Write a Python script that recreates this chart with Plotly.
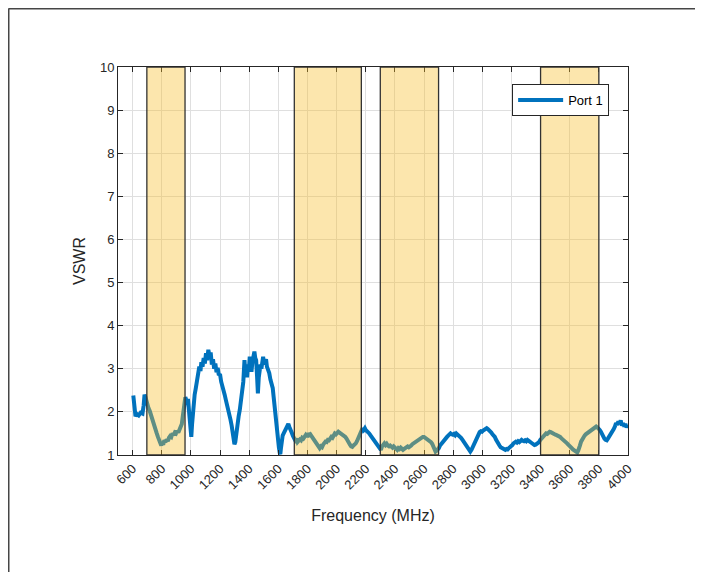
import plotly.graph_objects as go

freq_mhz = [605, 612, 620, 630, 642, 655, 668, 676, 682, 688, 694, 702, 710, 718, 726, 734, 742, 750, 758, 766,
            774, 782, 790, 797, 804, 810, 818, 826, 834, 842, 850, 858, 866, 874, 882, 890, 898, 906, 914, 922,
            930, 938, 944, 950, 956, 962, 968, 974, 980, 986, 992, 998, 1003, 1008, 1014, 1020, 1026, 1034, 1042, 1050,
            1058, 1066, 1072, 1080, 1088, 1096, 1104, 1112, 1120, 1128, 1136, 1144, 1152, 1160, 1168, 1176, 1184, 1192, 1200, 1208,
            1216, 1224, 1232, 1240, 1248, 1256, 1264, 1272, 1280, 1288, 1294, 1299, 1305, 1312, 1320, 1328, 1336, 1344, 1352, 1360,
            1368, 1374, 1380, 1386, 1392, 1398, 1404, 1410, 1416, 1422, 1430, 1436, 1442, 1448, 1454, 1460, 1466, 1472, 1478, 1484,
            1490, 1496, 1502, 1508, 1516, 1522, 1530, 1538, 1546, 1554, 1562, 1568, 1574, 1580, 1586, 1592, 1598, 1604, 1610, 1614,
            1618, 1624, 1630, 1637, 1645, 1653, 1661, 1669, 1676, 1684, 1692, 1700, 1708, 1716, 1724, 1732, 1740, 1748, 1756, 1764,
            1772, 1780, 1788, 1796, 1804, 1812, 1820, 1828, 1836, 1844, 1852, 1860, 1868, 1876, 1884, 1892, 1900, 1908, 1916, 1924,
            1932, 1940, 1948, 1956, 1964, 1972, 1980, 1988, 1996, 2004, 2012, 2020, 2028, 2036, 2044, 2052, 2060, 2068, 2076, 2084,
            2092, 2100, 2108, 2116, 2124, 2132, 2140, 2148, 2156, 2164, 2171, 2178, 2186, 2194, 2200, 2208, 2216, 2224, 2232, 2240,
            2248, 2256, 2264, 2272, 2280, 2288, 2296, 2304, 2312, 2320, 2328, 2336, 2344, 2352, 2360, 2368, 2376, 2384, 2392, 2400,
            2408, 2416, 2424, 2432, 2440, 2448, 2456, 2464, 2472, 2480, 2488, 2496, 2504, 2512, 2520, 2528, 2536, 2544, 2552, 2560,
            2568, 2576, 2584, 2592, 2600, 2608, 2616, 2624, 2632, 2640, 2648, 2656, 2664, 2672, 2679, 2686, 2694, 2702, 2710, 2718,
            2726, 2734, 2742, 2750, 2758, 2766, 2774, 2782, 2790, 2798, 2806, 2814, 2822, 2830, 2838, 2846, 2854, 2862, 2870, 2878,
            2886, 2894, 2902, 2910, 2918, 2926, 2934, 2942, 2950, 2958, 2966, 2974, 2982, 2990, 2998, 3006, 3014, 3022, 3030, 3038,
            3046, 3054, 3062, 3070, 3078, 3086, 3094, 3102, 3110, 3118, 3126, 3134, 3142, 3150, 3158, 3166, 3174, 3182, 3190, 3198,
            3206, 3214, 3222, 3230, 3238, 3246, 3254, 3262, 3270, 3278, 3286, 3294, 3302, 3310, 3318, 3326, 3334, 3342, 3350, 3358,
            3366, 3374, 3382, 3390, 3398, 3406, 3414, 3422, 3430, 3438, 3446, 3454, 3462, 3470, 3478, 3486, 3494, 3502, 3510, 3518,
            3526, 3534, 3542, 3550, 3558, 3566, 3574, 3582, 3590, 3598, 3606, 3614, 3622, 3630, 3638, 3646, 3652, 3658, 3664, 3670,
            3678, 3686, 3694, 3702, 3710, 3718, 3726, 3734, 3742, 3750, 3758, 3766, 3774, 3782, 3790, 3798, 3806, 3814, 3822, 3830,
            3838, 3846, 3854, 3862, 3870, 3878, 3886, 3894, 3902, 3910, 3918, 3926, 3934, 3942, 3950, 3958, 3966, 3974, 3982, 3990,
            3998]

vswr_port1 = [2.38, 2.05, 1.90, 1.95, 1.92, 1.98, 1.96, 2.15, 2.40, 2.35, 2.25, 2.15, 2.08, 2.02, 1.92, 1.82, 1.75, 1.68, 1.58, 1.50,
              1.42, 1.35, 1.26, 1.22, 1.30, 1.24, 1.34, 1.30, 1.36, 1.32, 1.40, 1.44, 1.42, 1.50, 1.46, 1.52, 1.50, 1.56, 1.52, 1.60,
              1.64, 1.72, 1.88, 2.05, 2.25, 2.34, 2.28, 2.20, 2.30, 2.05, 1.80, 1.55, 1.42, 1.70, 2.00, 2.25, 2.40, 2.55, 2.72, 2.85,
              3.05, 2.95, 3.15, 3.05, 3.25, 3.12, 3.36, 3.20, 3.44, 3.30, 3.38, 3.10, 3.22, 3.00, 3.12, 2.92, 3.02, 2.85, 2.88, 2.70,
              2.62, 2.48, 2.40, 2.28, 2.18, 2.05, 1.95, 1.82, 1.68, 1.52, 1.32, 1.25, 1.30, 1.55, 1.74, 1.90, 2.05, 2.28, 2.50, 2.70,
              3.20, 2.90, 3.05, 2.80, 3.10, 2.95, 3.28, 3.05, 2.93, 3.15, 3.30, 3.40, 3.25, 3.20, 2.85, 2.43, 2.80, 3.00, 3.10, 3.00,
              3.22, 3.28, 3.10, 3.15, 3.22, 3.05, 2.98, 2.90, 2.75, 2.65, 2.55, 2.35, 2.12, 1.92, 1.76, 1.58, 1.40, 1.18, 1.05, 1.02,
              1.15, 1.35, 1.45, 1.50, 1.55, 1.62, 1.66, 1.72, 1.65, 1.60, 1.52, 1.45, 1.39, 1.34, 1.38, 1.30, 1.33, 1.36, 1.34, 1.40,
              1.38, 1.44, 1.46, 1.42, 1.50, 1.46, 1.48, 1.44, 1.40, 1.38, 1.32, 1.26, 1.22, 1.18, 1.16, 1.20, 1.18, 1.24, 1.28, 1.31,
              1.30, 1.35, 1.34, 1.38, 1.42, 1.40, 1.46, 1.50, 1.48, 1.52, 1.54, 1.52, 1.50, 1.50, 1.46, 1.44, 1.42, 1.38, 1.32, 1.28,
              1.24, 1.20, 1.19, 1.22, 1.24, 1.27, 1.32, 1.38, 1.44, 1.52, 1.58, 1.62, 1.58, 1.62, 1.58, 1.56, 1.52, 1.50, 1.46, 1.42,
              1.39, 1.34, 1.30, 1.27, 1.22, 1.17, 1.14, 1.12, 1.20, 1.26, 1.27, 1.23, 1.26, 1.22, 1.20, 1.22, 1.18, 1.17, 1.20, 1.16,
              1.14, 1.12, 1.16, 1.14, 1.17, 1.14, 1.12, 1.14, 1.16, 1.18, 1.20, 1.18, 1.22, 1.22, 1.25, 1.27, 1.28, 1.30, 1.31, 1.34,
              1.36, 1.39, 1.40, 1.42, 1.42, 1.40, 1.39, 1.37, 1.35, 1.32, 1.30, 1.26, 1.20, 1.14, 1.08, 1.10, 1.12, 1.16, 1.22, 1.26,
              1.30, 1.34, 1.37, 1.40, 1.42, 1.45, 1.48, 1.50, 1.48, 1.47, 1.49, 1.46, 1.50, 1.48, 1.45, 1.44, 1.40, 1.36, 1.32, 1.28,
              1.24, 1.20, 1.16, 1.12, 1.08, 1.12, 1.18, 1.23, 1.30, 1.38, 1.43, 1.48, 1.53, 1.55, 1.54, 1.57, 1.58, 1.60, 1.62, 1.60,
              1.58, 1.56, 1.52, 1.48, 1.46, 1.42, 1.36, 1.30, 1.27, 1.22, 1.18, 1.16, 1.14, 1.12, 1.12, 1.14, 1.13, 1.16, 1.18, 1.22,
              1.23, 1.27, 1.30, 1.31, 1.29, 1.32, 1.30, 1.33, 1.35, 1.33, 1.32, 1.34, 1.32, 1.35, 1.34, 1.31, 1.29, 1.27, 1.25, 1.23,
              1.24, 1.26, 1.28, 1.30, 1.35, 1.38, 1.42, 1.46, 1.47, 1.50, 1.49, 1.52, 1.54, 1.53, 1.51, 1.50, 1.49, 1.47, 1.46, 1.45,
              1.43, 1.42, 1.39, 1.37, 1.35, 1.32, 1.30, 1.27, 1.24, 1.20, 1.18, 1.16, 1.13, 1.11, 1.09, 1.08, 1.06, 1.10, 1.14, 1.22,
              1.31, 1.37, 1.42, 1.45, 1.48, 1.50, 1.53, 1.56, 1.58, 1.60, 1.62, 1.63, 1.64, 1.66, 1.64, 1.62, 1.58, 1.54, 1.47, 1.42,
              1.38, 1.35, 1.34, 1.38, 1.42, 1.45, 1.52, 1.56, 1.60, 1.66, 1.74, 1.70, 1.78, 1.72, 1.80, 1.68, 1.74, 1.66, 1.72, 1.64,
              1.70]

band_start_mhz = [698, 1710, 2300, 3400]
band_end_mhz = [960, 2170, 2700, 3800]

x_ticks = list(range(600, 4001, 200))
x_tick_labels = [str(v) for v in x_ticks]
y_ticks = list(range(1, 11))
y_tick_labels = [str(v) for v in y_ticks]

axis_color = "rgb(38,38,38)"
font_family = "Liberation Sans, Arial, sans-serif"

fig = go.Figure()
fig.add_trace(go.Scatter(
    x=freq_mhz, y=vswr_port1, mode="lines", name="Port 1",
    line=dict(color="#0072BD", width=4),
))

for s, e in zip(band_start_mhz, band_end_mhz):
    fig.add_shape(type="rect", xref="x", yref="y", x0=s, x1=e, y0=1, y1=10,
                  fillcolor="rgba(247,190,40,0.38)",
                  line=dict(color="rgb(50,50,50)", width=1.3), layer="above")

# figure frame lines (top and left edges of the window)
fig.add_shape(type="line", xref="paper", yref="paper", x0=-0.2147, x1=1.2, y0=1.1505, y1=1.1505,
              line=dict(color="rgb(70,70,70)", width=2))
fig.add_shape(type="line", xref="paper", yref="paper", x0=-0.2147, x1=-0.2147, y0=1.1505, y1=-0.33,
              line=dict(color="rgb(70,70,70)", width=2))

axis_common = dict(
    showline=True, linecolor=axis_color, linewidth=1, mirror="allticks",
    ticks="inside", ticklen=5, tickcolor=axis_color,
    showgrid=True, gridcolor="rgb(223,223,223)", gridwidth=1,
    zeroline=False, tickfont=dict(size=13, color=axis_color, family=font_family),
)

fig.update_xaxes(range=[500, 4000], tickvals=x_ticks, ticktext=x_tick_labels, tickangle=-45,
                 title=dict(text="Frequency (MHz)", font=dict(size=16, color=axis_color, family=font_family), standoff=18),
                 **axis_common)
fig.update_yaxes(range=[1, 10], tickvals=y_ticks, ticktext=y_tick_labels,
                 title=dict(text="VSWR", font=dict(size=16, color=axis_color, family=font_family), standoff=10),
                 **axis_common)

fig.update_layout(
    width=703, height=572,
    margin=dict(l=110, r=83, t=59, b=125, autoexpand=False),
    paper_bgcolor="white", plot_bgcolor="white",
    font=dict(family=font_family, color=axis_color),
    showlegend=True,
    legend=dict(x=0.963, y=0.956, xanchor="right", yanchor="top",
                bgcolor="white", bordercolor=axis_color, borderwidth=1,
                font=dict(size=13, color="black", family=font_family),
                itemwidth=45),
)

fig.write_html("out.html")
